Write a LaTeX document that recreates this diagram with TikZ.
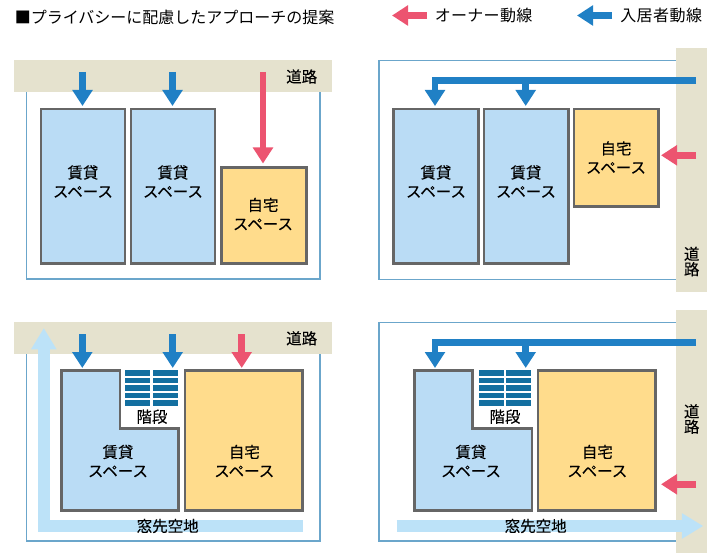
\documentclass[tikz,border=0pt]{standalone}
\usepackage{fontspec}
\setmainfont{Noto Sans CJK JP}
\newfontfamily\labelfont[FakeBold=0.12]{Noto Sans CJK JP}
\usetikzlibrary{arrows.meta}
\definecolor{rentfill}{HTML}{BADCF5}
\definecolor{homefill}{HTML}{FFDC8C}
\definecolor{roadfill}{HTML}{E5E2CE}
\definecolor{pinkarrow}{HTML}{EC5470}
\definecolor{bluearrow}{HTML}{2080C5}
\definecolor{lightarrow}{HTML}{BCE2F8}
\definecolor{lotline}{HTML}{6BA6CB}
\definecolor{stairblue}{HTML}{136FA0}
\definecolor{wallgrey}{HTML}{666666}
\tikzset{
  lot/.style={draw=lotline,line width=0.9pt},
  road/.style={fill=roadfill,draw=none},
  wall/.style={draw=wallgrey,line width=2.2pt,miter limit=10},
  rentbox/.style={wall,fill=rentfill,anchor=north west,inner sep=0pt,outer sep=0pt},
  homebox/.style={wall,fill=homefill,anchor=north west,inner sep=0pt,outer sep=0pt},
  flow/.style={line width=5.2pt,-{Triangle[length=12pt,width=14.6pt]}},
  pinkflow/.style={flow,draw=pinkarrow},
  blueflow/.style={flow,draw=bluearrow},
  wideflow/.style={draw=lightarrow,line width=9.2pt,-{Triangle[length=16pt,width=18pt]}},
  lab/.style={font=\labelfont\fontsize{11.6pt}{14.25pt}\selectfont,align=center,inner sep=0pt,text=black},
  roadlab/.style={font=\labelfont\fontsize{11.6pt}{11.5pt}\selectfont,align=center,inner sep=0pt,text=black},
  head/.style={font=\fontsize{12pt}{14pt}\selectfont,inner sep=0pt,anchor=west,text=black},
}
\newcommand{\stairbars}[3]{% x left, x right, y top
  \foreach \k in {0,1,2,3,4}{
    \fill[stairblue] ({#1},{#3+7.5*\k}) rectangle ++(24.8,5.4);
    \fill[stairblue] ({#2},{#3+7.5*\k}) rectangle ++(24.8,5.4);
  }
}
\begin{document}
\begin{tikzpicture}[x=0.75pt,y=-0.75pt]
\useasboundingbox (0,0) rectangle (720,559);

% heading and legend
\node[head] (title) at (14.5,17) {■プライバシーに配慮したアプローチの提案};
\node[head] (ownerkey) at (434.5,15.5) {\addfontfeature{LetterSpace=2}オーナー動線};
\node[head] (tenantkey) at (620,15.5) {\addfontfeature{LetterSpace=3}入居者動線};
\coordinate (ownerS) at (427,15.5); \coordinate (ownerT) at (392,15.5);
\coordinate (tenantS) at (612,15.5); \coordinate (tenantT) at (577,15.5);
\draw[pinkflow] (ownerS) -- (ownerT);
\draw[blueflow] (tenantS) -- (tenantT);

% ---------- panel 1
\draw[lot] (26.5,70) rectangle (320,279);
\fill[road] (14,60) rectangle (332,92);
\node[roadlab] (roadA) at (301.7,76.5) {道路};
\node[rentbox,minimum width=63pt,minimum height=116.2pt] (a1) at (41,109) {};
\node[rentbox,minimum width=63pt,minimum height=116.2pt] (a2) at (131,109) {};
\node[homebox,minimum width=63.4pt,minimum height=72pt] (a3) at (221.5,167.5) {};
\node[lab] (a1t) at (83,181.5) {賃貸\\スペース};
\node[lab] (a2t) at (173,181.5) {賃貸\\スペース};
\node[lab] (a3t) at (263,214) {自宅\\スペース};
\coordinate (a1s) at (82.5,72); \coordinate (a1e) at (82.5,106);
\coordinate (a2s) at (172.5,72); \coordinate (a2e) at (172.5,106);
\coordinate (a3s) at (263,72); \coordinate (a3e) at (263,163.5);
\draw[blueflow] (a1s) -- (a1e);
\draw[blueflow] (a2s) -- (a2e);
\draw[pinkflow] (a3s) -- (a3e);

% ---------- panel 2
\draw[lot] (680,60.7) -- (379,60.7) -- (379,279.3) -- (680,279.3);
\fill[road] (675.5,48) rectangle (707,292);
\node[roadlab] (roadB) at (691.7,261.5) {道\\路};
\node[rentbox,minimum width=63.6pt,minimum height=116.2pt] (b1) at (393.5,109) {};
\node[rentbox,minimum width=63.2pt,minimum height=116.2pt] (b2) at (484,109) {};
\node[homebox,minimum width=63.4pt,minimum height=73pt] (b3) at (574,109) {};
\node[lab] (b1t) at (436,181.5) {賃貸\\スペース};
\node[lab] (b2t) at (526,181.5) {賃貸\\スペース};
\node[lab] (b3t) at (616,157.5) {自宅\\スペース};
\coordinate (bs) at (696,80.7); \coordinate (bc) at (435,80.7);
\coordinate (b1e) at (435,106); \coordinate (b2c) at (525.7,80.7); \coordinate (b2e) at (525.7,106);
\coordinate (bps) at (696,155.3); \coordinate (bpe) at (661,155.3);
\draw[blueflow] (bs) -- (bc) -- (b1e);
\draw[blueflow] (b2c) -- (b2e);
\draw[pinkflow] (bps) -- (bpe);

% ---------- panel 3
\draw[lot] (26.5,345) -- (26.5,541) -- (320,541) -- (320,345);
\fill[road] (14,322.3) rectangle (332,354);
\node[roadlab] (roadC) at (301.7,338.3) {道路};
\coordinate (cws) at (303,526); \coordinate (cwc) at (43.8,526); \coordinate (cwe) at (43.8,328);
\draw[wideflow] (cws) -- (cwc) -- (cwe);
\draw[wall,fill=rentfill] (61.7,370.7) -- (120,370.7) -- (120,428.3) -- (178.7,428.3) -- (178.7,510.7) -- (61.7,510.7) -- cycle;
\node[homebox,minimum width=88pt,minimum height=105pt] (c3) at (185,370.7) {};
\stairbars{125.3}{153.2}{370.3}
\node[lab] (cst) at (152,416.7) {階段};
\node[lab] (c1t) at (118,461) {賃貸\\スペース};
\node[lab] (c3t) at (244.3,461) {自宅\\スペース};
\node[lab] (cgap) at (167.7,526) {窓先空地};
\coordinate (c1s) at (82.3,334); \coordinate (c1e) at (82.3,368);
\coordinate (c2s) at (172.7,334); \coordinate (c2e) at (172.7,368);
\coordinate (c3s) at (241.7,334); \coordinate (c3e) at (241.7,368);
\draw[blueflow] (c1s) -- (c1e);
\draw[blueflow] (c2s) -- (c2e);
\draw[pinkflow] (c3s) -- (c3e);

% ---------- panel 4
\draw[lot] (680,322.3) -- (379,322.3) -- (379,541) -- (680,541);
\fill[road] (675.5,310) rectangle (707,553);
\node[roadlab] (roadD) at (691.7,419) {道\\路};
\coordinate (dws) at (396.7,526); \coordinate (dwe) at (703.3,526);
\draw[wideflow] (dws) -- (dwe);
\draw[wall,fill=rentfill] (414.3,370.7) -- (472.7,370.7) -- (472.7,428.3) -- (532,428.3) -- (532,510.7) -- (414.3,510.7) -- cycle;
\node[homebox,minimum width=88pt,minimum height=105pt] (d3) at (538,370.7) {};
\stairbars{479}{506.3}{370.3}
\node[lab] (dst) at (505,416.7) {階段};
\node[lab] (d1t) at (471,461) {賃貸\\スペース};
\node[lab] (d3t) at (597.3,461) {自宅\\スペース};
\node[lab] (dgap) at (535.7,526) {窓先空地};
\coordinate (ds) at (696,342.7); \coordinate (dc) at (435,342.7);
\coordinate (d1e) at (435,368); \coordinate (d2c) at (525.7,342.7); \coordinate (d2e) at (525.7,368);
\coordinate (dps) at (696,484.3); \coordinate (dpe) at (661,484.3);
\draw[blueflow] (ds) -- (dc) -- (d1e);
\draw[blueflow] (d2c) -- (d2e);
\draw[pinkflow] (dps) -- (dpe);
\end{tikzpicture}
\end{document}
